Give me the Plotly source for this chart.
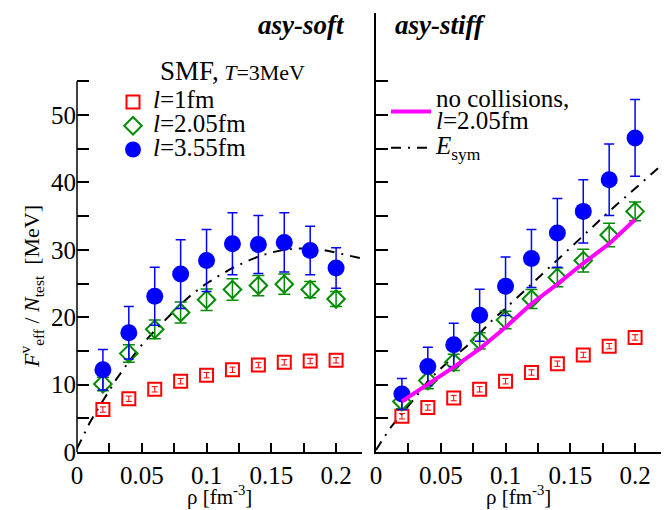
import plotly.graph_objects as go

# ---------------- data ----------------
rho = [0.02, 0.04, 0.06, 0.08, 0.10, 0.12, 0.14, 0.16, 0.18, 0.20]

# asy-soft panel
soft_l1 = [6.3, 7.9, 9.3, 10.5, 11.4, 12.2, 12.9, 13.3, 13.5, 13.6]
soft_l1_err = [0.4, 0.4, 0.4, 0.4, 0.4, 0.4, 0.4, 0.4, 0.4, 0.4]
soft_l2 = [10.1, 14.6, 18.2, 20.7, 22.6, 24.1, 24.7, 24.9, 24.1, 22.7]
soft_l2_err = [1.0, 1.3, 1.4, 1.55, 1.6, 1.6, 1.5, 1.5, 1.2, 1.1]
soft_l3 = [12.2, 17.7, 23.1, 26.4, 28.4, 30.9, 30.8, 31.1, 29.9, 27.3]
soft_l3_err = [3.0, 3.9, 4.3, 5.1, 4.6, 4.6, 4.3, 4.4, 3.6, 3.0]

# asy-stiff panel
stiff_l1 = [5.3, 6.6, 8.0, 9.3, 10.5, 11.8, 13.1, 14.4, 15.7, 17.0]
stiff_l1_err = [0.4, 0.4, 0.4, 0.4, 0.4, 0.4, 0.4, 0.4, 0.4, 0.4]
stiff_l2 = [7.5, 10.6, 13.3, 16.5, 19.6, 22.7, 25.9, 28.4, 32.2, 35.7]
stiff_l2_err = [1.1, 1.2, 1.2, 1.2, 1.3, 1.4, 1.4, 1.7, 1.75, 1.4]
stiff_l3 = [8.6, 12.7, 15.9, 20.3, 24.6, 28.7, 32.5, 35.7, 40.4, 46.6]
stiff_l3_err = [2.3, 2.85, 3.2, 3.85, 4.35, 4.3, 5.1, 4.7, 5.3, 5.7]
stiff_nocoll = [7.5, 10.0, 12.6, 15.3, 18.5, 22.0, 24.9, 28.0, 30.9, 34.5]

# symmetry energy curves
rho_curve = [0.0, 0.01, 0.02, 0.03, 0.04, 0.05, 0.06, 0.07, 0.08, 0.09, 0.10, 0.11,
             0.12, 0.13, 0.14, 0.15, 0.16, 0.17, 0.18, 0.19, 0.20, 0.21, 0.22]
esym_soft = [0.5, 4.4, 7.6, 10.7, 13.4, 15.9, 18.0, 20.0, 21.9, 23.6, 25.0, 26.2,
             27.3, 28.2, 29.0, 29.6, 30.0, 30.2, 30.2, 30.0, 29.6, 29.2, 28.7]
esym_stiff = [0.3, 3.3, 5.7, 8.0, 10.5, 12.4, 14.1, 15.7, 17.6, 19.6, 21.3, 23.1,
              25.0, 26.8, 28.6, 30.4, 32.2, 34.0, 35.7, 37.4, 39.1, 40.8, 42.5]

# axes ticks
x_major = [0, 0.05, 0.1, 0.15, 0.2]
x_labels = ["0", "0.05", "0.1", "0.15", "0.2"]
x_minor = [0.025, 0.075, 0.125, 0.175]
y_major = [0, 10, 20, 30, 40, 50]
y_labels = ["0", "10", "20", "30", "40", "50"]
y_minor = [5, 15, 25, 35, 45, 55]

# ---------------- style ----------------
FONT = "Liberation Serif"
RED = "#ff0000"
GREEN = "#008b00"
BLUE = "#0000ff"
MAGENTA = "#ff00ff"
DASHDOT = "10px,7px,2px,7px"

fig = go.Figure()

def add_panel(xa, ya, l1, e1, l2, e2, l3, e3, esym, show):
    fig.add_trace(go.Scatter(
        x=rho_curve, y=esym, mode="lines", xaxis=xa, yaxis=ya,
        line=dict(color="black", width=2, dash=DASHDOT),
        name="<span style='font-size:25px'><i>E</i><sub>sym</sub></span>",
        showlegend=(not show), legend="legend2", legendgroup="esym"))
    fig.add_trace(go.Scatter(
        x=rho, y=l1, mode="markers", xaxis=xa, yaxis=ya,
        marker=dict(symbol="square-open", size=13, color=RED, line=dict(width=2, color=RED)),
        error_y=dict(type="data", array=e1, color=RED, thickness=1, width=3),
        name="<span style='font-size:25px'><i>l</i>=1fm</span>",
        showlegend=show, legend="legend"))
    fig.add_trace(go.Scatter(
        x=rho, y=l2, mode="markers", xaxis=xa, yaxis=ya,
        marker=dict(symbol="diamond-open", size=13.5, color=GREEN, line=dict(width=2, color=GREEN)),
        error_y=dict(type="data", array=e2, color=GREEN, thickness=1.5, width=6),
        name="<span style='font-size:25px'><i>l</i>=2.05fm</span>",
        showlegend=show, legend="legend"))
    fig.add_trace(go.Scatter(
        x=rho, y=l3, mode="markers", xaxis=xa, yaxis=ya,
        marker=dict(symbol="circle", size=17, color=BLUE),
        error_y=dict(type="data", array=e3, color=BLUE, thickness=1.5, width=5),
        name="<span style='font-size:25px'><i>l</i>=3.55fm</span>",
        showlegend=show, legend="legend"))

add_panel("x", "y", soft_l1, soft_l1_err, soft_l2, soft_l2_err, soft_l3, soft_l3_err, esym_soft, True)
add_panel("x2", "y2", stiff_l1, stiff_l1_err, stiff_l2, stiff_l2_err, stiff_l3, stiff_l3_err, esym_stiff, False)

fig.add_trace(go.Scatter(
    x=rho, y=stiff_nocoll, mode="lines", xaxis="x2", yaxis="y2",
    line=dict(color=MAGENTA, width=4),
    name="<span style='font-size:25px'>no collisions,<br><i>l</i>=2.05fm</span>",
    showlegend=True, legend="legend2", legendgroup="nocoll", legendrank=1))

# page body has an 8px margin: size the figure so the plot sits where the reference has it
OFF = 8
W, H = 670 - OFF, 510 - OFF
X0, X1 = 77, 661      # plot area, page pixels
Y0, Y1 = 13, 452
ML, MR, MT, MB = X0 - OFF, 670 - X1, Y0 - OFF, 510 - Y1
PW = X1 - X0
PH = Y1 - Y0

def px_x(p):
    return (p - X0) / PW

def px_y(p):
    return (Y1 - p) / PH

xcommon = dict(range=[0, 0.22], showline=True, linecolor="black", linewidth=1.5,
               ticks="inside", ticklen=9, tickwidth=1.5, tickcolor="black",
               tickmode="array", tickvals=x_major, ticktext=x_labels,
               minor=dict(tickmode="array", tickvals=x_minor, ticks="inside", ticklen=9,
                          tickwidth=1.5, tickcolor="black", showgrid=False),
               tickfont=dict(family=FONT, size=25, color="black"),
               showgrid=False, zeroline=False)
ycommon = dict(range=[0, PH / 6.74], ticks="inside", ticklen=12, tickwidth=1.5,
               tickcolor="black", tickmode="array", tickvals=y_major, ticktext=y_labels,
               minor=dict(tickmode="array", tickvals=y_minor, ticks="inside", ticklen=12,
                          tickwidth=1.5, tickcolor="black", showgrid=False),
               tickfont=dict(family=FONT, size=25, color="black"),
               showgrid=False, zeroline=False)

fig.update_layout(
    width=W, height=H,
    margin=dict(l=ML, r=MR, t=MT, b=MB),
    paper_bgcolor="white", plot_bgcolor="white",
    font=dict(family=FONT, color="black"),
    xaxis=dict(domain=[0, 285 / PW], anchor="y", **xcommon),
    xaxis2=dict(domain=[299 / PW, 1], anchor="y2", **xcommon),
    yaxis=dict(domain=[0, 1], anchor="x", showline=False, **ycommon),
    yaxis2=dict(domain=[0, 1], anchor="x2", showline=True, linecolor="black",
                linewidth=1.5, showticklabels=False, **ycommon),
    legend=dict(x=px_x(113), y=px_y(85), xanchor="left", yanchor="top",
                bgcolor="rgba(0,0,0,0)", font=dict(family=FONT, size=16, color="black"),
                tracegroupgap=0),
    legend2=dict(x=px_x(386), y=px_y(83), xanchor="left", yanchor="top",
                 bgcolor="rgba(0,0,0,0)", font=dict(family=FONT, size=17, color="black"),
                 tracegroupgap=0, itemwidth=40),
    showlegend=True,
)

fig.add_shape(type="line", xref="x domain", yref="y", x0=0, x1=0, y0=0, y1=55,
              line=dict(color="black", width=1.5))

ann = []
ann.append(dict(text="<b><i>asy-soft</i></b>", x=px_x(301), y=px_y(9), xref="paper", yref="paper",
                showarrow=False, font=dict(family=FONT, size=27), xanchor="center", yanchor="top",
                borderpad=0))
ann.append(dict(text="<b><i>asy-stiff</i></b>", x=px_x(440), y=px_y(9), xref="paper", yref="paper",
                showarrow=False, font=dict(family=FONT, size=27), xanchor="center", yanchor="top",
                borderpad=0))
ann.append(dict(text="<span style='font-size:27px'>SMF,</span> <i>T</i>=3MeV", x=px_x(158), y=px_y(71),
                xref="paper", yref="paper", showarrow=False, font=dict(family=FONT, size=22),
                xanchor="left", yanchor="middle"))
for xr in ["x domain", "x2 domain"]:
    ann.append(dict(text="ρ [fm<sup>-3</sup>]", x=0.5, y=px_y(496), xref=xr, yref="paper",
                    showarrow=False, font=dict(family=FONT, size=21), xanchor="center", yanchor="middle",
                    borderpad=0))
ann.append(dict(text="<i>F</i><sup>v</sup><sub>eff</sub> / <i>N</i><sub>test</sub>  [MeV]",
                x=px_x(31), y=px_y(287), xref="paper", yref="paper", textangle=-90,
                showarrow=False, font=dict(family=FONT, size=22), xanchor="center", yanchor="middle"))
fig.update_layout(annotations=ann)

fig.write_html("out.html")
